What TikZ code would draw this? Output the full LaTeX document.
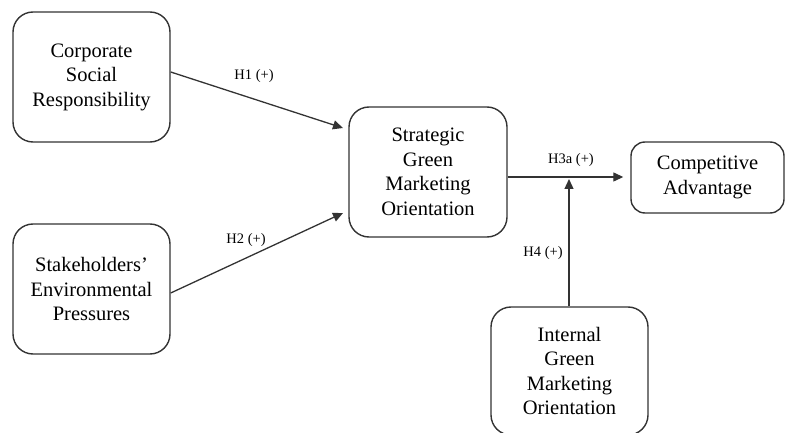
\documentclass[tikz,border=0pt]{standalone}
\usepackage{fontspec}
\setmainfont{Liberation Serif}
\usetikzlibrary{arrows.meta}
\definecolor{linec}{HTML}{333333}
\begin{document}
\begin{tikzpicture}[x=1pt,y=-1pt,
  box/.style={draw=linec,line width=1.4pt,rounded corners=20pt,align=center,
    font=\fontsize{20.5}{24.5}\selectfont,inner sep=0pt},
  conn/.style={draw=linec,line width=1.3pt,-{Triangle[length=10pt,width=9pt]}},
  lab/.style={font=\fontsize{14.5}{17}\selectfont,inner sep=0pt}]
\useasboundingbox (0,0) rectangle (785,433);
\clip (0,0) rectangle (785,433);
\node[box,minimum width=157pt,minimum height=130pt] (csr) at (91.5,77) {Corporate\\Social\\Responsibility};
\node[box,minimum width=157pt,minimum height=130pt] (sep) at (91.5,289) {Stakeholders’\\Environmental\\Pressures};
\node[box,minimum width=158pt,minimum height=130pt] (sgmo) at (428,172) {Strategic\\Green\\Marketing\\Orientation};
\node[box,minimum width=153pt,minimum height=71pt,rounded corners=14pt] (ca) at (707.5,177.5) {Competitive\\Advantage};
\node[box,minimum width=157pt,minimum height=128pt] (igmo) at (569.5,371) {Internal\\Green\\Marketing\\Orientation};
\coordinate (t1) at (343,128);
\coordinate (t2) at (343,213);
\coordinate (m) at (569,177);
\draw[conn] ([yshift=5pt]csr.east) -- (t1);
\draw[conn] ([yshift=-4pt]sep.east) -- (t2);
\draw[conn,shorten >=7pt] (sgmo.east |- m) -- (ca.west |- m);
\draw[conn,shorten >=2pt] (igmo.north -| m) -- (m);
\node[lab] (l1) at (254,76) {H1 (+)};
\node[lab] (l2) at (246,240) {H2 (+)};
\node[lab] (l3) at (571,160) {H3a (+)};
\node[lab] (l4) at (543,253) {H4 (+)};
\end{tikzpicture}
\end{document}
